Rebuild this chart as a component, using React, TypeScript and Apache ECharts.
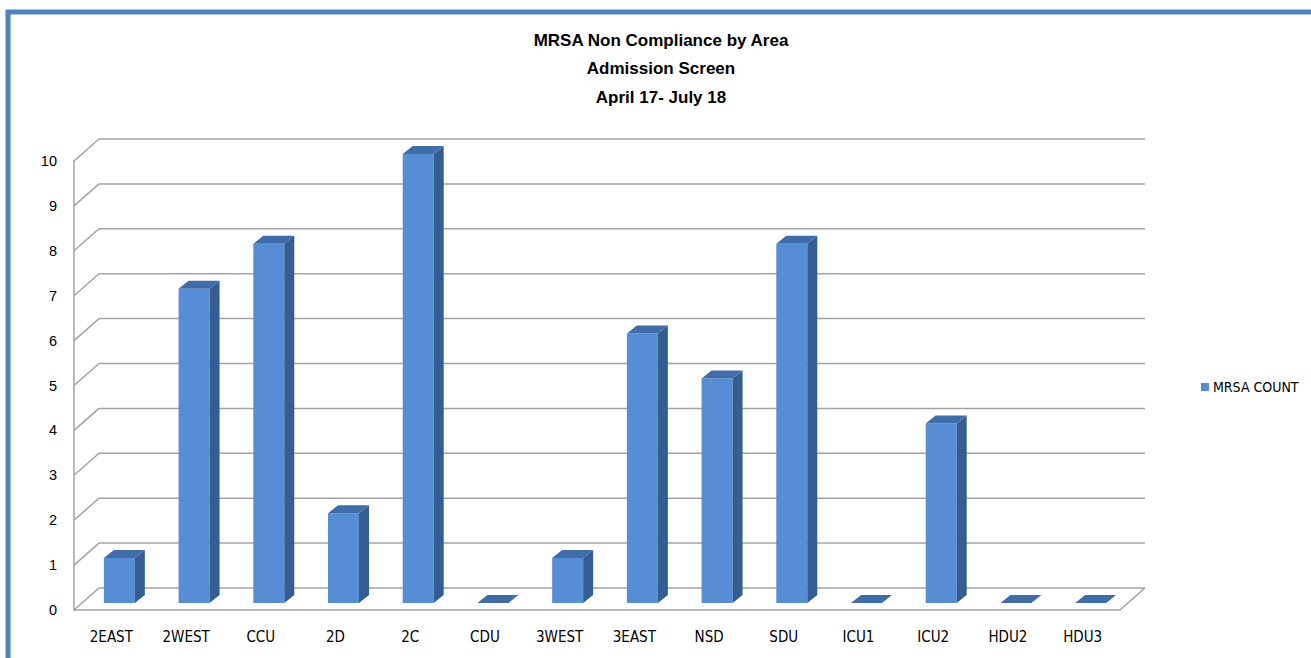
import React, { useEffect, useRef } from "react";
import * as echarts from "echarts";

const categories = ["2EAST", "2WEST", "CCU", "2D", "2C", "CDU", "3WEST", "3EAST", "NSD", "SDU", "ICU1", "ICU2", "HDU2", "HDU3"];
const mrsaCount = [1, 7, 8, 2, 10, 0, 1, 6, 5, 8, 0, 4, 0, 0];
const yTicks = [0, 1, 2, 3, 4, 5, 6, 7, 8, 9, 10];
const seriesName = "MRSA COUNT";
const titleLines = ["MRSA Non Compliance by Area", "Admission Screen", "April 17- July 18"];

const NARROW = "'Liberation Sans Narrow', 'DejaVu Sans Condensed', 'Liberation Sans', Arial, sans-serif";
const WALL_DX = 25;
const WALL_DY = -22;
const BAR_OX = 8;
const BAR_OY = -7;
const BAR_DX = 10;
const BAR_DY = -8;
const BAR_W = 31;
const FRONT = "#558ED5";
const SIDE = "#355D92";
const TOP = "#3F6DAA";
const GRID = "#A3A3A3";

export default function App() {
  const ref = useRef<HTMLDivElement>(null);
  useEffect(() => {
    if (!ref.current) return;
    const chart = echarts.init(ref.current, undefined, { renderer: "svg" });
    const option: any = {
      animation: false,
      backgroundColor: "#ffffff",
      graphic: [
        {
          type: "rect",
          shape: { x: 8, y: 12, width: 1400, height: 800 },
          style: { fill: "none", stroke: "#4F81BD", lineWidth: 5 },
          silent: true,
          z: 0,
        },
        ...titleLines.map((t, i) => ({
          type: "text",
          x: 661,
          y: 40 + i * 28.5,
          style: {
            text: t,
            fontSize: 17,
            fontWeight: "bold",
            fontFamily: "'Liberation Sans', Arial, sans-serif",
            fill: "#000",
            textAlign: "center",
            textVerticalAlign: "middle",
          },
        })),
      ],
      legend: {
        data: [seriesName],
        left: 1196,
        top: 375,
        orient: "vertical",
        icon: "rect",
        itemWidth: 8,
        itemHeight: 8,
        itemGap: 6,
        textStyle: { fontSize: 14, fontFamily: NARROW, color: "#000", padding: [0, 0, 0, -1] },
      },
      grid: { left: 74, right: 191, top: 161, bottom: 48, containLabel: false },
      xAxis: {
        type: "category",
        data: categories,
        axisLine: { show: true, lineStyle: { color: GRID, width: 1.5 } },
        axisTick: { show: false },
        axisLabel: { margin: 19, fontSize: 15, fontFamily: NARROW, color: "#000" },
        splitLine: { show: false },
      },
      yAxis: {
        type: "value",
        min: 0,
        max: 10,
        interval: 1,
        axisLine: { show: true, lineStyle: { color: GRID, width: 1.5 } },
        axisTick: { show: false },
        axisLabel: { margin: 17, fontSize: 14.5, fontFamily: "'Liberation Sans', Arial, sans-serif", color: "#000" },
        splitLine: { show: false },
      },
      series: [
        {
          type: "custom",
          name: "walls",
          silent: true,
          z: 1,
          data: yTicks.map((t) => [0, t]),
          encode: { x: 0, y: 1 },
          renderItem: (params: any, api: any) => {
            const cs = params.coordSys;
            const t = api.value(1);
            const p = api.coord([0, t]);
            const left = cs.x;
            const right = cs.x + cs.width;
            const y = p[1];
            const children: any[] = [
              {
                type: "line",
                shape: { x1: left + WALL_DX, y1: y + WALL_DY, x2: right + WALL_DX, y2: y + WALL_DY },
                style: { stroke: GRID, lineWidth: 1.5 },
              },
              {
                type: "line",
                shape: { x1: left, y1: y, x2: left + WALL_DX, y2: y + WALL_DY },
                style: { stroke: GRID, lineWidth: 1.5 },
              },
            ];
            if (t === 0) {
              children.push({
                type: "line",
                shape: { x1: right, y1: y, x2: right + WALL_DX, y2: y + WALL_DY },
                style: { stroke: GRID, lineWidth: 1.5 },
              });
            }
            return { type: "group", children };
          },
        },
        {
          type: "custom",
          name: seriesName,
          z: 2,
          itemStyle: { color: FRONT },
          data: mrsaCount.map((v, i) => [i, v]),
          encode: { x: 0, y: 1 },
          renderItem: (params: any, api: any) => {
            const i = api.value(0);
            const v = api.value(1);
            const p0 = api.coord([i, 0]);
            const p1 = api.coord([i, v]);
            const x0 = p0[0] + BAR_OX - BAR_W / 2;
            const x1 = x0 + BAR_W;
            const yb = p0[1] + BAR_OY;
            const yt = p1[1] + BAR_OY;
            const children: any[] = [];
            if (v > 0) {
              children.push({
                type: "rect",
                shape: { x: x0, y: yt, width: BAR_W, height: yb - yt },
                style: { fill: FRONT },
              });
              children.push({
                type: "polygon",
                shape: { points: [[x1, yb], [x1 + BAR_DX, yb + BAR_DY], [x1 + BAR_DX, yt + BAR_DY], [x1, yt]] },
                style: { fill: SIDE },
              });
            }
            children.push({
              type: "polygon",
              shape: { points: [[x0, yt], [x1, yt], [x1 + BAR_DX, yt + BAR_DY], [x0 + BAR_DX, yt + BAR_DY]] },
              style: { fill: TOP },
            });
            return { type: "group", children };
          },
        },
      ],
    };
    chart.setOption(option);
    return () => chart.dispose();
  }, []);
  return <div ref={ref} style={{ position: "absolute", left: 0, top: 0, width: 1311, height: 658 }} />;
}
